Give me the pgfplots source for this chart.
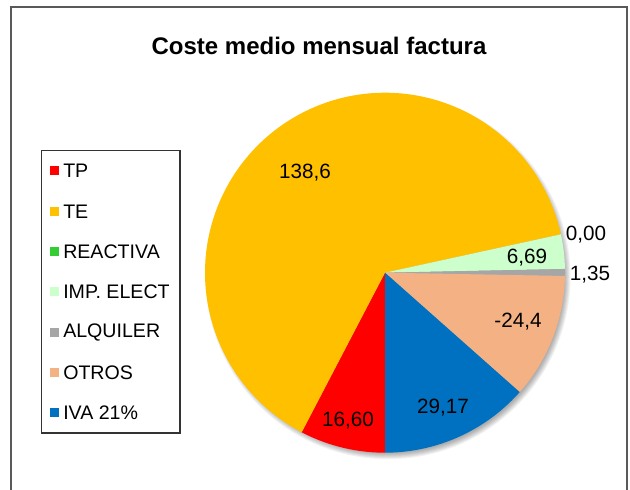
\documentclass[border=0pt]{standalone}
\usepackage{pgfplots}
\pgfplotsset{compat=1.18}
\usepackage{fontspec}
\setmainfont{Liberation Sans}
\definecolor{cTP}{HTML}{FF0000}
\definecolor{cTE}{HTML}{FFC000}
\definecolor{cRE}{HTML}{33CC33}
\definecolor{cIMP}{HTML}{CCFFCC}
\definecolor{cALQ}{HTML}{A6A6A6}
\definecolor{cOT}{HTML}{F4B183}
\definecolor{cIVA}{HTML}{0070C0}
\begin{document}
\begin{tikzpicture}
\begin{scope}[x=0.75pt,y=0.75pt]
\useasboundingbox (0,0) rectangle (630,489);
\fill[white] (0,0) rectangle (630,489);
\draw[line width=1.4pt, color=black!65] (11,482.3) rectangle (627,-10);
\node[font=\fontsize{18}{20}\selectfont\bfseries] at (319,443) {Coste medio mensual factura};
% shadow
\foreach \k in {0,...,6} {\fill[black, opacity=0.05] (388,212.3) circle ({182.5-\k});}
\end{scope}
% data values
\def\vTP{16.60}
\def\vTE{138.6}
\def\vRE{0.00}
\def\vIMP{6.69}
\def\vALQ{1.35}
\def\vOT{-24.4}
\def\vIVA{29.17}
\pgfmathsetmacro\tot{abs(\vTP)+abs(\vTE)+abs(\vRE)+abs(\vIMP)+abs(\vALQ)+abs(\vOT)+abs(\vIVA)}
\pgfmathsetmacro\aA{270}
\pgfmathsetmacro\aB{\aA-360*(abs(\vTP)/\tot)}
\pgfmathsetmacro\aC{\aB-360*(abs(\vTE)/\tot)}
\pgfmathsetmacro\aD{\aC-360*(abs(\vRE)/\tot)}
\pgfmathsetmacro\aE{\aD-360*(abs(\vIMP)/\tot)}
\pgfmathsetmacro\aF{\aE-360*(abs(\vALQ)/\tot)}
\pgfmathsetmacro\aG{\aF-360*(abs(\vOT)/\tot)}
\pgfmathsetmacro\aH{\aG-360*(abs(\vIVA)/\tot)}
\begin{axis}[at={(288.75pt,162.225pt)}, anchor=origin, x=135pt, y=135pt, hide axis,
  xmin=-1, xmax=1, ymin=-1, ymax=1, clip=false]
\addplot[draw=none, fill=cTP, domain=\aB:\aA, samples=40] ({cos(x)},{sin(x)}) -- (0,0) -- cycle;
\addplot[draw=none, fill=cTE, domain=\aC:\aB, samples=160] ({cos(x)},{sin(x)}) -- (0,0) -- cycle;
% REACTIVA = 0.00 -> zero-width slice
\addplot[draw=none, fill=cIMP, domain=\aE:\aD, samples=20] ({cos(x)},{sin(x)}) -- (0,0) -- cycle;
\addplot[draw=none, fill=cALQ, domain=\aF:\aE, samples=10] ({cos(x)},{sin(x)}) -- (0,0) -- cycle;
\addplot[draw=none, fill=cOT, domain=\aG:\aF, samples=40] ({cos(x)},{sin(x)}) -- (0,0) -- cycle;
\addplot[draw=none, fill=cIVA, domain=\aH:\aG, samples=40] ({cos(x)},{sin(x)}) -- (0,0) -- cycle;
\end{axis}
\begin{scope}[x=0.75pt,y=0.75pt]
% data labels
\begin{scope}[every node/.style={font=\fontsize{15.5}{17}\selectfont, inner sep=0pt}]
\node at (305,316) {138,6};
\node at (527,231) {6,69};
\node at (586,254) {0,00};
\node at (590,214) {1,35};
\node at (518,167) {-24,4};
\node at (443,81) {29,17};
\node at (348,68) {16,60};
\end{scope}
% legend
\draw[line width=0.8pt, color=black!80] (41.7,338.3) rectangle (180,56);
\foreach \c/\t [count=\i from 0] in {cTP/TP, cTE/TE, cRE/REACTIVA, cIMP/IMP. ELECT, cALQ/ALQUILER, cOT/OTROS, cIVA/IVA 21\%} {
  \pgfmathsetmacro\yy{489-171-40.3*\i}
  \fill[\c] (50,\yy-4.5) rectangle (59,\yy+4.5);
  \node[anchor=west, inner sep=0pt, font=\fontsize{14.7}{16}\selectfont] at (63,\yy) {\t};
}
\end{scope}
\end{tikzpicture}
\end{document}
